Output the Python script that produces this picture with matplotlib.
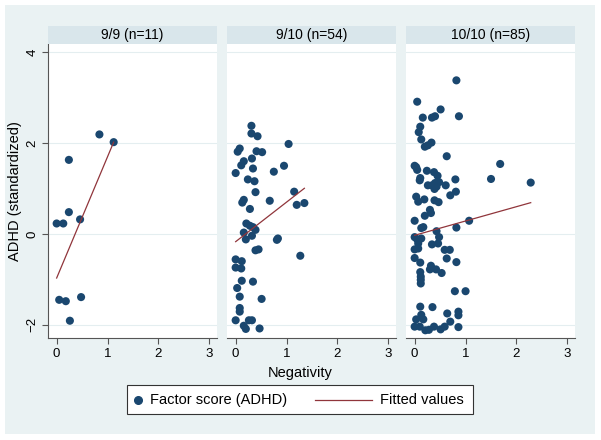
import numpy as np
import matplotlib
matplotlib.use("Agg")
import matplotlib.pyplot as plt
from matplotlib.lines import Line2D
from matplotlib.patches import Rectangle

plt.rcParams['font.family'] = ['Liberation Sans', 'DejaVu Sans']

# panel titles
titles = ["9/9 (n=11)", "9/10 (n=54)", "10/10 (n=85)"]

# 9/9 group
neg_99 = [0.84, 1.12, 0.24, 0.24, 0.00, 0.13, 0.46, 0.05, 0.18, 0.48, 0.26]
adhd_99 = [2.19, 2.02, 1.63, 0.48, 0.23, 0.23, 0.32, -1.45, -1.48, -1.39, -1.91]

# 9/10 group
neg_910 = [0.31, 0.31, 0.43, 1.04, 0.08, 0.04, 0.41, 0.52, 0.16, 0.32,
           0.11, 0.95, 0.00, 0.34, 0.75, 0.24, 0.37, 0.39, 1.15, 0.16,
           0.13, 0.67, 1.20, 1.35, 0.28,
           0.21, 0.28, 0.34, 0.39, 0.16, 0.32, 0.20, 0.81, 0.83, 0.39,
           0.45, 1.27, 0.00, 0.12, 0.00, 0.11, 0.12, 0.34, 0.03, 0.08,
           0.51, 0.08, 0.08, 0.00, 0.26, 0.32, 0.16, 0.20, 0.47]
adhd_910 = [2.38, 2.21, 2.15, 1.98, 1.88, 1.81, 1.82, 1.80, 1.60, 1.66,
            1.51, 1.50, 1.34, 1.44, 1.37, 1.20, 1.16, 0.92, 0.93, 0.75,
            0.69, 0.73, 0.64, 0.68, 0.55,
            0.23, 0.18, 0.15, 0.09, 0.03, -0.04, -0.12, -0.13, -0.10, -0.36,
            -0.34, -0.48, -0.56, -0.60, -0.74, -0.76, -1.03, -1.05, -1.19, -1.38,
            -1.43, -1.63, -1.71, -1.90, -1.90, -1.90, -2.02, -2.09, -2.08]

# 10/10 group
neg_1010 = [0.82, 0.05, 0.51, 0.16, 0.34, 0.40, 0.87, 0.11, 0.08, 0.13,
            0.20, 0.26, 0.33, 0.63, 0.00, 0.03, 0.05, 1.68, 0.24, 0.38,
            0.45, 0.11, 0.10, 0.80, 1.50, 2.28, 0.26, 0.34, 0.40, 0.48,
            0.43, 0.39, 0.61, 0.81, 0.70, 0.03, 0.07, 0.19, 0.39, 0.47,
            0.30, 0.32, 0.20, 0.00, 1.07, 0.13, 0.17, 0.82, 0.43, 0.00,
            0.05, 0.13, 0.48, 0.07, 0.00, 0.07, 0.34, 0.46, 0.59, 0.69,
            0.00, 0.63, 0.11, 0.82, 0.32, 0.30, 0.42, 0.53, 0.11, 0.12,
            0.12, 0.12, 0.79, 1.00,
            0.11, 0.35, 0.64, 0.86, 0.86, 0.13, 0.03, 0.17, 0.70, 0.00,
            0.10, 0.21, 0.28, 0.38, 0.51, 0.59, 0.86]
adhd_1010 = [3.38, 2.91, 2.74, 2.56, 2.56, 2.59, 2.59, 2.36, 2.24, 2.08,
             1.92, 1.95, 2.01, 1.71, 1.50, 1.47, 1.41, 1.54, 1.39, 1.36,
             1.28, 1.23, 1.18, 1.20, 1.21, 1.13, 1.07, 1.07, 1.12, 1.14,
             1.04, 0.99, 1.07, 0.93, 0.85, 0.82, 0.71, 0.76, 0.74, 0.70,
             0.53, 0.46, 0.40, 0.29, 0.29, 0.13, 0.15, 0.14, 0.06, -0.07,
             -0.12, -0.10, -0.07, -0.21, -0.34, -0.32, -0.23, -0.21, -0.35, -0.35,
             -0.53, -0.54, -0.63, -0.62, -0.70, -0.78, -0.78, -0.86, -0.84, -0.94,
             -1.01, -1.09, -1.26, -1.26,
             -1.60, -1.61, -1.75, -1.71, -1.79, -1.78, -1.88, -1.88, -1.93, -2.04,
             -2.04, -2.12, -2.11, -2.04, -2.10, -2.04, -2.05]

# fitted lines (fit on the full data)
fit_intercept = [-0.97, -0.17, -0.03]
fit_slope = [2.67, 0.87, 0.315]

groups = [(neg_99, adhd_99), (neg_910, adhd_910), (neg_1010, adhd_1010)]

navy = '#1a476f'
maroon = '#90353b'
bg = '#eaf2f3'
strip = '#d9e6eb'

W, H = 601.0, 440.0
fig = plt.figure(figsize=(6.01, 4.40), dpi=100, facecolor='white')
fig.patches.append(Rectangle((5/W, 6/H), 590/W, 429/H, transform=fig.transFigure,
                             facecolor=bg, edgecolor='none', zorder=-10))

lefts = [48, 227, 406]
for i, (x, y) in enumerate(groups):
    ax = fig.add_axes([lefts[i]/W, (H-338)/H, 169/W, 294/H])
    ax.set_facecolor('white')
    ax.set_xlim(-0.17, 3.15)
    ax.set_ylim(-2.29, 4.18)
    for yy in [-2, 0, 2, 4]:
        ax.axhline(yy, color='#e4eef0', lw=0.8, zorder=0)
    x = np.array(x)
    y = np.array(y)
    ax.scatter(x, y, s=34, color=navy, edgecolors='none', zorder=3)
    xs = np.array([x.min(), x.max()])
    ax.plot(xs, fit_intercept[i] + fit_slope[i]*xs, color=maroon, lw=0.9, zorder=4)

    for s in ['top', 'right']:
        ax.spines[s].set_visible(False)
    ax.spines['bottom'].set_color('#555555')
    ax.spines['bottom'].set_linewidth(0.8)
    ax.set_xticks([0, 1, 2, 3])
    ax.set_yticks([-2, 0, 2, 4])
    ax.tick_params(axis='x', length=4, width=0.8, color='#555555', labelsize=9.5, pad=3)
    if i == 0:
        ax.spines['left'].set_color('#555555')
        ax.spines['left'].set_linewidth(0.8)
        ax.tick_params(axis='y', length=4, width=0.8, color='#555555', labelsize=9.5,
                       pad=3, labelrotation=90)
        for lab in ax.get_yticklabels():
            lab.set_va('center')
    else:
        ax.spines['left'].set_visible(False)
        ax.tick_params(axis='y', left=False, labelleft=False)

    # strip header
    sax = fig.add_axes([lefts[i]/W, (H-44)/H, 169/W, 18/H])
    sax.set_facecolor(strip)
    sax.set_xticks([])
    sax.set_yticks([])
    for s in sax.spines.values():
        s.set_visible(False)
    sax.text(0.5, 0.5, titles[i], ha='center', va='center', fontsize=10, transform=sax.transAxes)

fig.text(15/W, (H-191)/H, 'ADHD (standardized)', rotation=90, ha='center', va='center', fontsize=10.5)
fig.text(300/W, (H-373)/H, 'Negativity', ha='center', va='center', fontsize=10.5)

# legend box drawn by hand to match the layout
fig.patches.append(Rectangle((127/W, (H-414)/H), 346/W, 29/H, transform=fig.transFigure,
                             facecolor='white', edgecolor='#333333', lw=0.8, zorder=5))
ly = (H-399.5)/H
fig.lines.append(Line2D([138/W], [ly], marker='o', color=navy, markersize=5.5,
                        transform=fig.transFigure, zorder=6))
fig.text(150/W, ly, 'Factor score (ADHD)', ha='left', va='center', fontsize=10.5, zorder=6)
fig.lines.append(Line2D([315/W, 372/W], [ly, ly], color=maroon, lw=0.9,
                        transform=fig.transFigure, zorder=6))
fig.text(380/W, ly, 'Fitted values', ha='left', va='center', fontsize=10.5, zorder=6)

fig.savefig('out.png', dpi=100, facecolor='white')
